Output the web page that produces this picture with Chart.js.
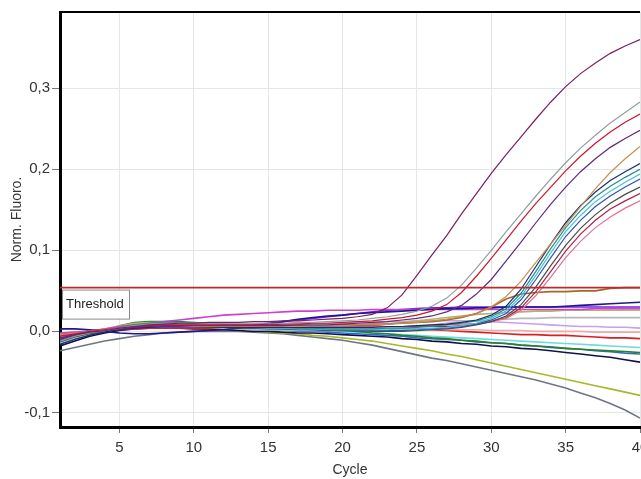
<!DOCTYPE html>
<html>
<head>
<meta charset="utf-8">
<script src="https://cdn.jsdelivr.net/npm/chart.js@4.4.1/dist/chart.umd.min.js"></script>
<style>
  html, body { margin: 0; padding: 0; overflow: hidden; background: #fff; }
  #wrap { width: 700px; height: 479px; }
</style>
</head>
<body>
<div id="wrap"><canvas id="pcr" width="700" height="479"></canvas></div>
<script>
// cycles 1..40
const cycles = [1,2,3,4,5,6,7,8,9,10,11,12,13,14,15,16,17,18,19,20,
  21,22,23,24,25,26,27,28,29,30,31,32,33,34,35,36,37,38,39,40]

const xTicks = [5, 10, 15, 20, 25, 30, 35, 40]
const yTicks = [-0.1, 0, 0.1, 0.2, 0.3]
const threshold = 0.054

// amplified samples
const ampPurple = [-0.008,-0.004,-0.001,0.001,0.004,0.006,0.008,0.009,0.010,0.010,
  0.011,0.011,0.011,0.012,0.012,0.013,0.013,0.014,0.015,0.016,
  0.018,0.021,0.029,0.045,0.069,0.094,0.118,0.145,0.170,0.195,
  0.218,0.240,0.262,0.283,0.302,0.318,0.331,0.343,0.352,0.360]
const ampGray = [-0.012,-0.006,-0.002,0.001,0.004,0.007,0.009,0.010,0.010,0.010,
  0.010,0.010,0.010,0.010,0.010,0.010,0.011,0.011,0.012,0.013,
  0.014,0.016,0.018,0.021,0.025,0.031,0.041,0.057,0.078,0.100,
  0.123,0.145,0.167,0.188,0.208,0.226,0.242,0.257,0.270,0.283]
const ampRed = [-0.006,-0.003,0.000,0.002,0.004,0.006,0.007,0.008,0.008,0.008,
  0.008,0.008,0.008,0.008,0.008,0.009,0.009,0.010,0.010,0.011,
  0.012,0.013,0.015,0.017,0.020,0.025,0.033,0.048,0.068,0.090,
  0.113,0.136,0.158,0.178,0.198,0.216,0.232,0.246,0.258,0.268]
const ampViolet = [-0.010,-0.005,-0.002,0.001,0.003,0.005,0.006,0.007,0.007,0.007,
  0.007,0.007,0.007,0.007,0.007,0.007,0.008,0.008,0.008,0.009,
  0.010,0.011,0.012,0.014,0.016,0.019,0.024,0.032,0.046,0.064,
  0.087,0.110,0.134,0.157,0.178,0.197,0.213,0.227,0.238,0.248]
const ampTan = [-0.004,-0.002,0.000,0.002,0.004,0.006,0.007,0.007,0.007,0.006,
  0.006,0.006,0.006,0.006,0.006,0.006,0.006,0.007,0.007,0.007,
  0.008,0.008,0.009,0.010,0.011,0.013,0.015,0.018,0.022,0.030,
  0.043,0.062,0.085,0.108,0.131,0.154,0.176,0.196,0.213,0.228]
const ampNavy = [-0.016,-0.010,-0.005,-0.001,0.002,0.004,0.005,0.006,0.006,0.006,
  0.006,0.005,0.005,0.005,0.005,0.005,0.005,0.005,0.005,0.005,
  0.005,0.005,0.006,0.006,0.007,0.008,0.009,0.011,0.014,0.020,
  0.031,0.052,0.080,0.108,0.134,0.155,0.172,0.186,0.197,0.207]
const ampTeal = [-0.009,-0.005,-0.002,0.001,0.005,0.008,0.010,0.011,0.011,0.010,
  0.010,0.009,0.008,0.007,0.006,0.005,0.004,0.004,0.003,0.003,
  0.003,0.003,0.004,0.004,0.005,0.006,0.008,0.010,0.013,0.018,
  0.028,0.047,0.074,0.102,0.128,0.149,0.166,0.179,0.190,0.200]
const ampCyan = [-0.007,-0.004,-0.001,0.001,0.004,0.007,0.009,0.010,0.010,0.009,
  0.008,0.007,0.006,0.005,0.004,0.004,0.003,0.003,0.002,0.002,
  0.002,0.002,0.002,0.003,0.003,0.004,0.005,0.007,0.010,0.016,
  0.025,0.043,0.069,0.097,0.123,0.143,0.160,0.173,0.184,0.194]
const ampBlue = [-0.011,-0.006,-0.002,0.001,0.003,0.005,0.006,0.007,0.007,0.007,
  0.006,0.006,0.005,0.004,0.004,0.003,0.003,0.002,0.002,0.002,
  0.001,0.001,0.001,0.001,0.002,0.003,0.004,0.006,0.009,0.014,
  0.022,0.039,0.064,0.091,0.117,0.137,0.154,0.167,0.178,0.188]
const ampDark = [-0.013,-0.007,-0.003,0.000,0.003,0.005,0.006,0.006,0.006,0.006,
  0.005,0.005,0.004,0.004,0.003,0.003,0.002,0.002,0.001,0.001,
  0.001,0.000,0.000,0.000,0.001,0.002,0.003,0.005,0.008,0.012,
  0.019,0.033,0.055,0.081,0.106,0.127,0.144,0.158,0.169,0.178]
const ampPink = [-0.005,-0.002,0.000,0.002,0.004,0.006,0.007,0.008,0.008,0.008,
  0.008,0.007,0.007,0.007,0.006,0.006,0.006,0.006,0.006,0.006,
  0.006,0.006,0.006,0.006,0.007,0.007,0.008,0.009,0.010,0.012,
  0.016,0.026,0.044,0.067,0.091,0.111,0.128,0.141,0.152,0.161]
const ampMaroon = [-0.008,-0.004,-0.001,0.001,0.003,0.005,0.006,0.007,0.007,0.007,
  0.007,0.007,0.007,0.006,0.006,0.006,0.006,0.006,0.006,0.007,
  0.007,0.007,0.006,0.006,0.006,0.006,0.006,0.007,0.009,0.012,
  0.017,0.029,0.049,0.074,0.099,0.120,0.137,0.151,0.161,0.170]

// non-amplified samples
const negBrown = [-0.006,-0.003,0.000,0.002,0.004,0.005,0.006,0.006,0.006,0.006,
  0.006,0.006,0.006,0.006,0.006,0.006,0.007,0.007,0.007,0.008,
  0.008,0.009,0.009,0.010,0.011,0.012,0.014,0.017,0.022,0.030,
  0.040,0.046,0.048,0.049,0.049,0.050,0.050,0.053,0.054,0.054]
const negNavy = [0.003,0.003,0.002,0.000,-0.002,-0.003,-0.003,-0.002,-0.001,0.000,
  0.001,0.002,0.004,0.006,0.009,0.012,0.015,0.017,0.019,0.020,
  0.022,0.023,0.024,0.025,0.026,0.027,0.028,0.028,0.029,0.029,
  0.030,0.030,0.030,0.030,0.031,0.032,0.033,0.034,0.035,0.036]
const negMagenta = [-0.002,-0.001,0.000,0.003,0.006,0.008,0.010,0.012,0.014,0.016,
  0.018,0.020,0.021,0.022,0.023,0.024,0.025,0.025,0.026,0.026,
  0.026,0.027,0.027,0.027,0.027,0.027,0.027,0.027,0.027,0.027,
  0.027,0.027,0.027,0.027,0.027,0.027,0.028,0.028,0.028,0.028]
const negViolet = [-0.004,-0.002,0.000,0.002,0.003,0.004,0.005,0.005,0.005,0.005,
  0.005,0.006,0.007,0.008,0.010,0.012,0.014,0.016,0.018,0.020,
  0.022,0.024,0.026,0.027,0.028,0.029,0.029,0.030,0.030,0.030,
  0.030,0.030,0.030,0.030,0.030,0.030,0.030,0.030,0.030,0.030]
const negKhaki = [-0.006,-0.003,0.000,0.003,0.007,0.010,0.011,0.011,0.010,0.009,
  0.008,0.007,0.006,0.005,0.004,0.004,0.003,0.003,0.003,0.004,
  0.005,0.007,0.009,0.011,0.013,0.015,0.017,0.019,0.021,0.022,
  0.023,0.024,0.025,0.025,0.026,0.026,0.026,0.026,0.026,0.026]
const negSilver = [-0.014,-0.008,-0.003,0.001,0.004,0.006,0.007,0.007,0.007,0.006,
  0.005,0.004,0.003,0.002,0.002,0.001,0.001,0.001,0.001,0.002,
  0.002,0.003,0.004,0.005,0.006,0.008,0.010,0.012,0.013,0.014,
  0.015,0.016,0.016,0.017,0.017,0.017,0.017,0.017,0.017,0.017]
const negLavender = [-0.003,-0.001,0.001,0.003,0.005,0.007,0.008,0.009,0.009,0.009,
  0.009,0.009,0.009,0.009,0.009,0.009,0.009,0.010,0.010,0.010,
  0.011,0.011,0.012,0.012,0.013,0.013,0.013,0.013,0.013,0.012,
  0.011,0.010,0.009,0.008,0.007,0.006,0.006,0.005,0.005,0.004]
const negSalmon = [-0.010,-0.006,-0.002,0.001,0.003,0.005,0.006,0.006,0.006,0.006,
  0.005,0.005,0.005,0.004,0.004,0.004,0.004,0.004,0.004,0.004,
  0.004,0.004,0.004,0.003,0.003,0.003,0.002,0.002,0.002,0.001,
  0.001,0.001,0.000,0.000,0.000,0.000,-0.001,-0.001,-0.001,-0.001]
const negRed = [-0.005,-0.003,-0.001,0.001,0.002,0.003,0.004,0.004,0.004,0.004,
  0.004,0.004,0.004,0.004,0.004,0.004,0.005,0.005,0.006,0.006,
  0.006,0.006,0.005,0.004,0.003,0.002,0.001,0.000,-0.001,-0.002,
  -0.003,-0.004,-0.004,-0.005,-0.005,-0.006,-0.007,-0.008,-0.008,-0.009]
const negGreen = [-0.012,-0.008,-0.004,0.000,0.007,0.011,0.012,0.012,0.012,0.011,
  0.010,0.009,0.008,0.007,0.006,0.005,0.004,0.003,0.002,0.001,
  0.000,-0.002,-0.003,-0.005,-0.006,-0.008,-0.009,-0.011,-0.012,-0.014,
  -0.015,-0.017,-0.018,-0.020,-0.021,-0.022,-0.023,-0.024,-0.025,-0.026]
const negCyan = [-0.008,-0.004,-0.001,0.002,0.005,0.008,0.009,0.009,0.009,0.008,
  0.007,0.006,0.005,0.004,0.003,0.003,0.002,0.001,0.001,0.000,
  -0.001,-0.002,-0.003,-0.004,-0.005,-0.006,-0.007,-0.008,-0.009,-0.010,
  -0.011,-0.012,-0.013,-0.014,-0.015,-0.016,-0.017,-0.018,-0.019,-0.020]
const negBlue = [-0.015,-0.009,-0.004,0.000,0.003,0.005,0.006,0.006,0.006,0.005,
  0.005,0.004,0.003,0.002,0.002,0.001,0.000,0.000,-0.001,-0.002,
  -0.003,-0.004,-0.005,-0.006,-0.008,-0.009,-0.010,-0.011,-0.013,-0.014,
  -0.015,-0.017,-0.018,-0.019,-0.021,-0.022,-0.024,-0.025,-0.027,-0.028]
const negInk = [-0.018,-0.012,-0.006,-0.002,0.001,0.003,0.004,0.004,0.004,0.003,
  0.003,0.002,0.001,0.000,0.000,-0.001,-0.002,-0.002,-0.003,-0.004,
  -0.005,-0.006,-0.007,-0.009,-0.010,-0.012,-0.013,-0.015,-0.016,-0.018,
  -0.019,-0.021,-0.022,-0.024,-0.026,-0.028,-0.030,-0.032,-0.035,-0.038]
const negOlive = [-0.005,-0.002,0.000,0.002,0.004,0.005,0.005,0.005,0.005,0.004,
  0.003,0.002,0.001,0.000,-0.001,-0.002,-0.003,-0.005,-0.006,-0.008,
  -0.010,-0.012,-0.015,-0.018,-0.021,-0.024,-0.028,-0.031,-0.035,-0.039,
  -0.043,-0.047,-0.051,-0.055,-0.059,-0.063,-0.067,-0.071,-0.075,-0.079]
const negSlate = [-0.024,-0.020,-0.016,-0.012,-0.009,-0.006,-0.004,-0.002,-0.001,0.000,
  0.000,0.000,0.000,-0.001,-0.002,-0.003,-0.005,-0.007,-0.009,-0.011,
  -0.014,-0.017,-0.021,-0.025,-0.029,-0.033,-0.036,-0.040,-0.044,-0.048,
  -0.052,-0.056,-0.060,-0.065,-0.070,-0.076,-0.082,-0.089,-0.097,-0.107]

const amplified = [
  [ampPurple, '#7b1f63'], [ampGray, '#8fa0a0'], [ampRed, '#c8182c'],
  [ampViolet, '#5b2b7e'], [ampTan, '#c89050'], [ampNavy, '#1c2c70'],
  [ampTeal, '#2a8c8c'], [ampCyan, '#3cc4d8'], [ampBlue, '#2f52b4'],
  [ampDark, '#4a4a4a'], [ampPink, '#e0708e'], [ampMaroon, '#a8244a']
]
const negatives = [
  [negBrown, '#a8642c'], [negNavy, '#1a1a8a'], [negMagenta, '#d040d0'],
  [negViolet, '#7a1ee6'], [negKhaki, '#b4b464'], [negSilver, '#b8b8b8'],
  [negLavender, '#c8a0e8'], [negSalmon, '#f0a8a8'], [negRed, '#d82020'],
  [negGreen, '#248424'], [negCyan, '#70d8e0'], [negBlue, '#3468c8'],
  [negInk, '#10104a'], [negOlive, '#a8b82a'], [negSlate, '#6e7686']
]

const datasets = [{
  label: 'Threshold',
  data: [{x: cycles[0], y: threshold}, {x: cycles[cycles.length - 1], y: threshold}],
  borderColor: '#c0282c',
  borderWidth: 1.6
}]
amplified.forEach(([vals, color]) => {
  datasets.push({data: vals.map((v, i) => ({x: cycles[i], y: v})), borderColor: color, borderWidth: 1.2})
})
negatives.forEach(([vals, color]) => {
  datasets.push({data: vals.map((v, i) => ({x: cycles[i], y: v})), borderColor: color, borderWidth: 1.6})
})

const tickFont = {family: 'Liberation Sans, Arial, sans-serif', size: 15}
const titleFont = {family: 'Liberation Sans, Arial, sans-serif', size: 14}

// top frame line + threshold label box
const frame = {
  id: 'frame',
  afterDatasetsDraw(chart) {
    const {ctx, chartArea} = chart
    ctx.save()
    ctx.strokeStyle = '#000'
    ctx.lineWidth = 2
    ctx.beginPath()
    ctx.moveTo(chartArea.left, chartArea.top)
    ctx.lineTo(chartArea.right, chartArea.top)
    ctx.stroke()

    const yT = chart.scales.y.getPixelForValue(threshold)
    const bx = chartArea.left + 2, by = yT + 2
    ctx.fillStyle = '#fff'
    ctx.fillRect(bx, by, 67, 29)
    ctx.strokeStyle = '#8a8a8a'
    ctx.lineWidth = 1
    ctx.strokeRect(bx + 0.5, by + 0.5, 67, 29)
    ctx.fillStyle = '#222'
    ctx.font = '13px Liberation Sans, Arial, sans-serif'
    ctx.textBaseline = 'middle'
    ctx.fillText('Threshold', bx + 4, by + 15)
    ctx.restore()
  }
}

new Chart(document.getElementById('pcr'), {
  type: 'line',
  data: {datasets},
  options: {
    responsive: false,
    animation: false,
    layout: {padding: {top: 12, right: 60, left: 0, bottom: 0}},
    elements: {point: {radius: 0}, line: {tension: 0}},
    plugins: {legend: {display: false}, tooltip: {enabled: false}},
    scales: {
      x: {
        type: 'linear',
        min: 1,
        max: 40,
        afterBuildTicks: axis => { axis.ticks = xTicks.map(v => ({value: v})) },
        afterFit: axis => { axis.height = 52 },
        grid: {color: '#e6e6e6', tickColor: '#777', tickLength: 6},
        border: {color: '#000', width: 3},
        ticks: {font: tickFont, color: '#333', padding: 6, maxRotation: 0},
        title: {display: true, text: 'Cycle', font: titleFont, color: '#333', padding: 0}
      },
      y: {
        min: -0.118,
        max: 0.394,
        afterBuildTicks: axis => { axis.ticks = yTicks.map(v => ({value: v})) },
        afterFit: axis => { axis.width = 60 },
        grid: {color: '#e6e6e6', tickColor: '#777', tickLength: 8},
        border: {color: '#000', width: 3},
        ticks: {
          font: tickFont, color: '#333', padding: 2,
          callback: v => v.toFixed(1).replace('.', ',')
        },
        title: {display: true, text: 'Norm. Fluoro.', font: titleFont, color: '#333', padding: {top: 9, bottom: 0}}
      }
    }
  },
  plugins: [frame]
})
</script>
</body>
</html>
